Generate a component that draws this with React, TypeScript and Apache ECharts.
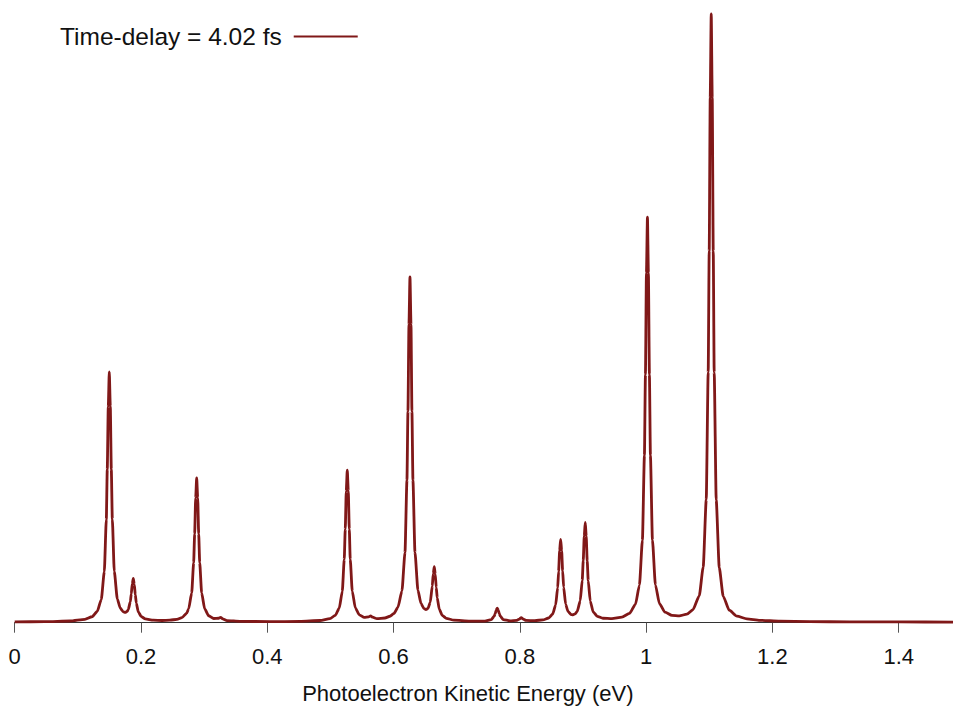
import React, { useEffect, useRef } from "react";
import * as echarts from "echarts";

// Photoelectron kinetic energy (eV) sample positions
const energy: number[] = [
  0, 0.048, 0.0876, 0.1113, 0.1224, 0.1308, 0.1371, 0.1419, 0.1451, 0.1466, 0.1482, 0.1498,
  0.1514, 0.153, 0.1546, 0.1577, 0.1625, 0.1672, 0.172, 0.1751, 0.1783, 0.1799, 0.1831, 0.1846,
  0.1862, 0.1878, 0.1894, 0.191, 0.1926, 0.1957, 0.2005, 0.2068, 0.2195, 0.2333, 0.2459, 0.257,
  0.2649, 0.2724, 0.2755, 0.2803, 0.2834, 0.285, 0.2866, 0.2882, 0.2898, 0.2914, 0.293, 0.2961,
  0.3009, 0.3072, 0.3151, 0.323, 0.3262, 0.3294, 0.3362, 0.3568, 0.4043, 0.4518, 0.4835, 0.4993,
  0.5077, 0.514, 0.5188, 0.5219, 0.5235, 0.5251, 0.5267, 0.5283, 0.5299, 0.5314, 0.5346, 0.5394,
  0.5457, 0.5536, 0.5606, 0.5637, 0.5669, 0.5737, 0.5864, 0.5943, 0.6006, 0.607, 0.6133, 0.6181,
  0.6212, 0.6228, 0.6244, 0.626, 0.6276, 0.6291, 0.6307, 0.6339, 0.6386, 0.6434, 0.6481, 0.6513,
  0.6545, 0.6581, 0.6613, 0.6629, 0.6645, 0.666, 0.6676, 0.6692, 0.6724, 0.6771, 0.6835, 0.6956,
  0.721, 0.7447, 0.7547, 0.7595, 0.761, 0.7626, 0.7642, 0.7658, 0.7674, 0.769, 0.7737, 0.7843,
  0.7954, 0.7991, 0.8022, 0.8054, 0.8097, 0.8239, 0.8366, 0.8456, 0.8519, 0.8567, 0.8599, 0.8614,
  0.863, 0.8646, 0.8662, 0.8678, 0.8694, 0.8725, 0.8762, 0.8809, 0.8841, 0.8877, 0.8909, 0.8956,
  0.8988, 0.9004, 0.902, 0.9036, 0.9051, 0.9067, 0.9083, 0.9115, 0.9162, 0.9226, 0.9316, 0.9458,
  0.9617, 0.9736, 0.9831, 0.9894, 0.9941, 0.9973, 0.9989, 1.0005, 1.0021, 1.0036, 1.0052, 1.0068,
  1.01, 1.0147, 1.0211, 1.0298, 1.0409, 1.0526, 1.0646, 1.0741, 1.0841, 1.0904, 1.0952, 1.0983,
  1.0999, 1.1015, 1.1031, 1.1047, 1.1063, 1.1078, 1.111, 1.1158, 1.1221, 1.1316, 1.1438, 1.1596,
  1.1802, 1.2119, 1.2594, 1.3227, 1.4019, 1.486,
];

// Photoelectron yield (arb. units, tallest peak = 100)
const intensity: number[] = [
  0.13, 0.17, 0.28, 0.56, 0.98, 1.86, 3.8, 8.37, 16.98, 25.2, 35.5, 41.2,
  35.54, 25.2, 17.02, 8.43, 3.93, 2.37, 1.78, 1.69, 1.88, 2.16, 3.44, 4.73,
  6.38, 7.26, 6.31, 4.59, 3.22, 1.78, 1.0, 0.63, 0.41, 0.36, 0.41, 0.56,
  0.84, 1.56, 2.27, 4.89, 9.85, 14.57, 20.5, 23.77, 20.5, 14.57, 9.85, 4.88,
  2.26, 1.14, 0.69, 0.73, 0.87, 0.64, 0.35, 0.22, 0.17, 0.21, 0.36, 0.67,
  1.2, 2.38, 5.15, 10.38, 15.36, 21.63, 25.07, 21.64, 15.37, 10.39, 5.2, 2.45,
  1.3, 0.86, 0.95, 1.11, 0.9, 0.67, 0.77, 1.06, 1.52, 2.55, 5.24, 11.52,
  23.4, 34.73, 49.0, 56.8, 48.99, 34.74, 23.42, 11.56, 5.34, 3.17, 2.32, 2.16,
  2.33, 3.34, 5.99, 8.07, 9.19, 7.98, 5.8, 4.06, 2.21, 1.19, 0.72, 0.42,
  0.26, 0.27, 0.5, 1.07, 1.51, 2.07, 2.37, 2.07, 1.51, 1.07, 0.52, 0.31,
  0.38, 0.6, 0.83, 0.6, 0.37, 0.34, 0.46, 0.77, 1.41, 2.92, 5.74, 8.43,
  11.82, 13.69, 11.85, 8.49, 5.82, 3.06, 1.86, 1.35, 1.3, 1.45, 1.87, 3.58,
  6.95, 10.18, 14.24, 16.47, 14.23, 10.14, 6.89, 3.56, 1.76, 1.05, 0.73, 0.67,
  0.91, 1.52, 3.02, 6.17, 13.54, 27.47, 40.74, 57.46, 66.63, 57.47, 40.75, 27.49,
  13.57, 6.22, 3.11, 1.73, 1.19, 1.12, 1.41, 2.13, 4.4, 9.13, 20.2, 41.13,
  61.08, 86.23, 100, 86.2, 61.05, 41.1, 20.16, 9.07, 4.33, 2.05, 1.09, 0.63,
  0.39, 0.25, 0.18, 0.14, 0.12, 0.11,
];

const seriesName = "Time-delay = 4.02 fs";
const xAxisTitle = "Photoelectron Kinetic Energy (eV)";
const xMin = 0;
const xMax = 1.486;
const xStep = 0.2;

const FONT = "'Liberation Sans', Arial, Helvetica, sans-serif";
const LINE_COLOR = "#801818";

export default function App() {
  const ref = useRef<HTMLDivElement>(null);

  useEffect(() => {
    document.body.style.margin = "0";
    if (!ref.current) return;
    const chart = echarts.init(ref.current, undefined, { renderer: "svg" });
    const data = energy.map((e, i) => [e, intensity[i]]);
    chart.setOption({
      animation: false,
      backgroundColor: "#ffffff",
      grid: {
        left: 14.7,
        right: 0,
        top: 14,
        bottom: 87.3,
        containLabel: false,
        outerBoundsMode: "none",
      },
      legend: {
        show: true,
        left: 55,
        top: 19,
        align: "right",
        icon: "rect",
        itemWidth: 64,
        itemHeight: 2,
        data: [{ name: seriesName }],
        itemStyle: { color: LINE_COLOR },
        textStyle: {
          fontFamily: FONT,
          fontSize: 24.5,
          color: "#111111",
          padding: [0, 7, 0, 0],
        },
      },
      xAxis: {
        type: "value",
        min: xMin,
        max: xMax,
        interval: xStep,
        splitLine: { show: false },
        axisLine: { show: true, onZero: false, lineStyle: { color: "#333333", width: 1 } },
        axisTick: { show: true, inside: false, length: 10, lineStyle: { color: "#555555", width: 1 } },
        axisLabel: {
          show: true,
          margin: 23,
          fontFamily: FONT,
          fontSize: 22,
          color: "#111111",
          showMaxLabel: false,
        },
        name: xAxisTitle,
        nameLocation: "middle",
        nameGap: 60,
        nameTextStyle: {
          fontFamily: FONT,
          fontSize: 22,
          color: "#111111",
          padding: [0, 32, 0, 0],
        },
      },
      yAxis: {
        type: "value",
        min: 0,
        max: 100,
        show: false,
        splitLine: { show: false },
      },
      series: [
        {
          name: seriesName,
          type: "line",
          data,
          symbol: "none",
          showSymbol: false,
          clip: false,
          smooth: 0.2,
          smoothMonotone: "x",
          lineStyle: { color: LINE_COLOR, width: 2.8, join: "round" },
          itemStyle: { color: LINE_COLOR },
        },
      ],
    });
    return () => chart.dispose();
  }, []);

  return (
    <div
      ref={ref}
      style={{ position: "fixed", left: 0, top: 0, width: 953, height: 710, background: "#fff" }}
    />
  );
}
